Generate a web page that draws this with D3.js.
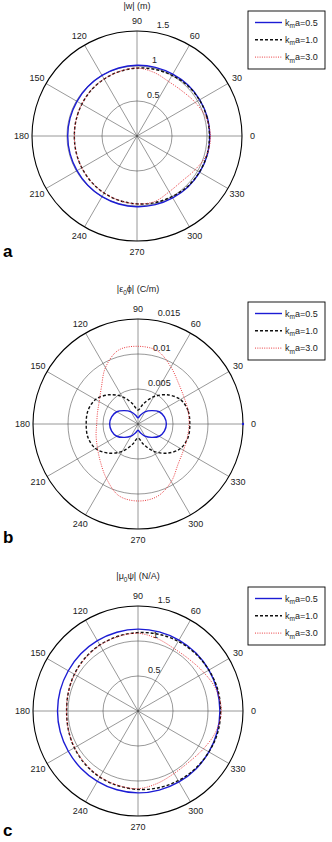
<!DOCTYPE html>
<html>
<head>
<meta charset="utf-8">
<script src="https://cdn.jsdelivr.net/npm/d3@7"></script>
<style>
  body { margin: 0; background: #fff; }
  svg { display: block; font-family: "Liberation Sans", Arial, sans-serif; }
</style>
</head>
<body>
<svg id="fig" width="332" height="842"></svg>
<script>
// angle of each sample, degrees counter-clockwise from 0
const angles = [0, 15, 30, 45, 60, 75, 90, 105, 120, 135, 150, 165,
                180, 195, 210, 225, 240, 255, 270, 285, 300, 315, 330, 345];

// (a) |w| (m)
const wKa05 = [1.04, 1.04, 1.035, 1.03, 1.02, 1.015, 1.01, 1.005, 1.0, 0.995, 0.99, 0.99,
               0.99, 0.99, 0.99, 0.995, 1.0, 1.005, 1.01, 1.015, 1.02, 1.03, 1.035, 1.04];
const wKa10 = [1.035, 1.035, 1.03, 1.02, 1.0, 0.985, 0.97, 0.955, 0.94, 0.925, 0.91, 0.9,
               0.895, 0.9, 0.91, 0.925, 0.94, 0.955, 0.97, 0.985, 1.0, 1.02, 1.03, 1.035];
const wKa30 = [1.05, 1.02, 0.96, 0.91, 0.9, 0.94, 0.97, 0.955, 0.94, 0.925, 0.91, 0.9,
               0.895, 0.9, 0.91, 0.925, 0.94, 0.955, 0.97, 0.97, 0.92, 0.91, 0.96, 1.03];

// (b) |eps0 phi| (C/m)
const phiKa05 = [0.00405, 0.0039, 0.0035, 0.0027, 0.002, 0.0013, 0.0009, 0.0013, 0.002, 0.0027, 0.0035, 0.0039,
                 0.00405, 0.0039, 0.0035, 0.0027, 0.002, 0.0013, 0.0009, 0.0013, 0.002, 0.0027, 0.0035, 0.0039];
const phiKa10 = [0.0074, 0.0074, 0.007, 0.0059, 0.0045, 0.003, 0.002, 0.003, 0.0045, 0.0059, 0.007, 0.0074,
                 0.0074, 0.0074, 0.007, 0.0059, 0.0045, 0.003, 0.002, 0.003, 0.0045, 0.0059, 0.007, 0.0074];
const phiKa30 = [0.0073, 0.0074, 0.0076, 0.0082, 0.0094, 0.0108, 0.0111, 0.0109, 0.0093, 0.0074, 0.0064, 0.006,
                 0.0059, 0.0062, 0.0067, 0.0076, 0.009, 0.0106, 0.011, 0.0107, 0.0095, 0.0081, 0.0075, 0.0073];
// stray blue point sitting on the outer ring at 0 deg
const phiEdgePoint = [0, 0.015];

// (c) |mu0 psi| (N/A)
const psiKa05 = [1.17, 1.17, 1.17, 1.17, 1.17, 1.17, 1.17, 1.165, 1.16, 1.155, 1.15, 1.15,
                 1.15, 1.15, 1.15, 1.155, 1.16, 1.165, 1.17, 1.17, 1.17, 1.17, 1.17, 1.17];
const psiKa10 = [1.18, 1.18, 1.17, 1.16, 1.15, 1.135, 1.12, 1.105, 1.09, 1.07, 1.05, 1.03,
                 1.02, 1.03, 1.05, 1.07, 1.09, 1.105, 1.12, 1.135, 1.15, 1.16, 1.17, 1.18];
const psiKa30 = [1.19, 1.16, 1.09, 1.04, 1.03, 1.07, 1.11, 1.1, 1.085, 1.065, 1.045, 1.03,
                 1.02, 1.03, 1.045, 1.065, 1.085, 1.1, 1.11, 1.07, 1.03, 1.03, 1.08, 1.15];

const angleTicks = [0, 30, 60, 90, 120, 150, 180, 210, 240, 270, 300, 330];
const ticksA = [0.5, 1, 1.5];
const ticksB = [0.005, 0.01, 0.015];
const ticksC = [0.5, 1, 1.5];
const legendValues = ["0.5", "1.0", "3.0"];

const styles = [
  { color: "#1c1cd4", width: 1.4, dash: null },
  { color: "#111", width: 1.4, dash: "3,2" },
  { color: "#e8262a", width: 0.9, dash: "1,1.3" }
];

const panels = [
  { letter: "a", cx: 137, cy: 136, title: ["|w| (m)"], ticks: ticksA, tickLabels: ["0.5", "1", "1.5"],
    series: [wKa05, wKa10, wKa30], titleDy: -130, letterDy: 120.5, legendDy: -125 },
  { letter: "b", cx: 138, cy: 424, title: ["|ε", "0", "ϕ| (C/m)"], ticks: ticksB, tickLabels: ["0.005", "0.01", "0.015"],
    series: [phiKa05, phiKa10, phiKa30], titleDy: -135, letterDy: 119, legendDy: -122, edge: phiEdgePoint },
  { letter: "c", cx: 138, cy: 711, title: ["|μ", "0", "ψ| (N/A)"], ticks: ticksC, tickLabels: ["0.5", "1", "1.5"],
    series: [psiKa05, psiKa10, psiKa30], titleDy: -135, letterDy: 125, legendDy: -124 }
];

const R = 105;
const svg = d3.select("#fig");
svg.append("rect").attr("width", 332).attr("height", 842).attr("fill", "#fff");

const toRad = d => d * Math.PI / 180;

panels.forEach(p => {
  const rmax = p.ticks[p.ticks.length - 1];
  const rinc = p.ticks[0];
  const r = d3.scaleLinear().domain([0, rmax]).range([0, R]);
  const g = svg.append("g").attr("transform", `translate(${p.cx},${p.cy})`);

  // rings
  g.selectAll("circle.ring").data(p.ticks.slice(0, -1)).join("circle")
    .attr("class", "ring").attr("r", d => r(d))
    .attr("fill", "none").attr("stroke", "#444").attr("stroke-width", 0.55);

  // spokes
  g.selectAll("line.spoke").data(angleTicks.slice(0, 6)).join("line")
    .attr("x1", d => -R * Math.cos(toRad(d))).attr("y1", d => R * Math.sin(toRad(d)))
    .attr("x2", d => R * Math.cos(toRad(d))).attr("y2", d => -R * Math.sin(toRad(d)))
    .attr("stroke", "#444").attr("stroke-width", 0.55);

  // outer ring
  g.append("circle").attr("r", R).attr("fill", "none").attr("stroke", "#000").attr("stroke-width", 1.1);

  // angle labels
  g.selectAll("text.ang").data(angleTicks).join("text")
    .attr("x", d => 1.1 * R * Math.cos(toRad(d)))
    .attr("y", d => -1.1 * R * Math.sin(toRad(d)))
    .attr("text-anchor", "middle").attr("dominant-baseline", "central")
    .attr("font-size", 9).attr("fill", "#222")
    .text(d => d);

  // radial tick labels at 82 deg
  g.selectAll("text.rt").data(p.ticks).join("text")
    .attr("x", d => r(d + rinc / 20) * Math.cos(toRad(82)) + 5)
    .attr("y", d => -r(d + rinc / 20) * Math.sin(toRad(82)) - 2)
    .attr("font-size", 9).attr("fill", "#222")
    .text((d, i) => p.tickLabels[i]);

  // curves
  const line = d3.lineRadial()
    .angle((d, i) => toRad(90 - angles[i]))
    .radius(d => r(d))
    .curve(d3.curveCatmullRomClosed.alpha(0.5));

  p.series.forEach((s, k) => {
    const st = styles[k];
    g.append("path").datum(s)
      .attr("d", line)
      .attr("fill", "none")
      .attr("stroke", st.color)
      .attr("stroke-width", st.width)
      .attr("stroke-dasharray", st.dash);
  });

  if (p.edge) {
    g.append("circle")
      .attr("cx", r(p.edge[1]) * Math.cos(toRad(p.edge[0])))
      .attr("cy", -r(p.edge[1]) * Math.sin(toRad(p.edge[0])))
      .attr("r", 1.2).attr("fill", styles[0].color);
  }

  // title
  const t = g.append("text").attr("x", 0).attr("y", p.titleDy)
    .attr("text-anchor", "middle").attr("dominant-baseline", "central")
    .attr("font-size", 9).attr("fill", "#222");
  if (p.title.length === 1) {
    t.text(p.title[0]);
  } else {
    t.append("tspan").text(p.title[0]);
    t.append("tspan").attr("dy", 2.5).attr("font-size", 6.5).text(p.title[1]);
    t.append("tspan").attr("dy", -2.5).text(p.title[2]);
  }

  // panel letter
  svg.append("text").attr("x", 3).attr("y", p.cy + p.letterDy)
    .attr("font-size", 17).attr("font-weight", "bold").attr("fill", "#000")
    .text(p.letter);

  // legend
  const ly = p.cy + p.legendDy;
  const lg = svg.append("g").attr("transform", `translate(248,${ly})`);
  lg.append("rect").attr("width", 77).attr("height", 58)
    .attr("fill", "#fff").attr("stroke", "#000").attr("stroke-width", 0.9);
  legendValues.forEach((v, k) => {
    const yy = 11.5 + k * 17.3;
    const st = styles[k];
    lg.append("line").attr("x1", 7).attr("x2", 34).attr("y1", yy).attr("y2", yy)
      .attr("stroke", st.color).attr("stroke-width", st.width)
      .attr("stroke-dasharray", st.dash);
    const tx = lg.append("text").attr("x", 37).attr("y", yy + 3)
      .attr("font-size", 9).attr("fill", "#222");
    tx.append("tspan").text("k");
    tx.append("tspan").attr("dy", 2.5).attr("font-size", 6.5).text("m");
    tx.append("tspan").attr("dy", -2.5).text("a=" + v);
  });
});
</script>
</body>
</html>
